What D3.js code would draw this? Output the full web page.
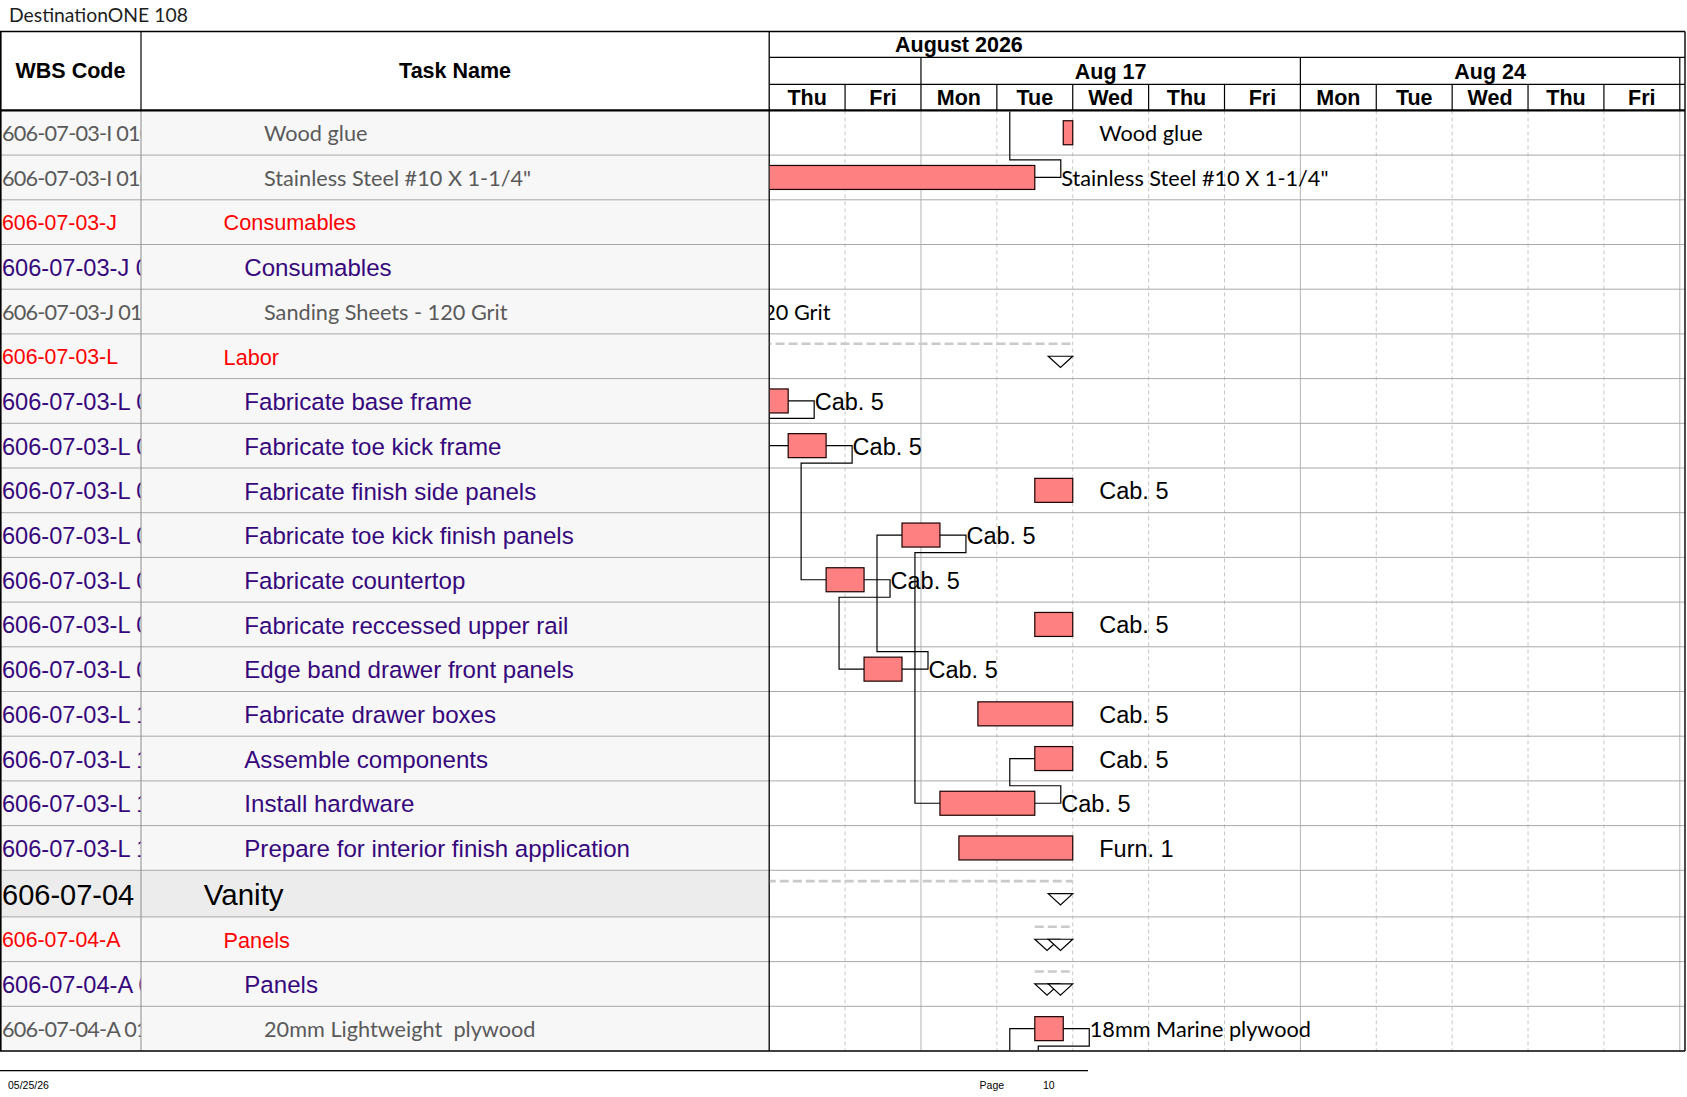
<!DOCTYPE html>
<html><head><meta charset="utf-8">
<script src="https://cdn.jsdelivr.net/npm/d3@7"></script>
<style>body{margin:0;background:#fff;} svg{display:block}</style>
</head><body>
<svg id="chart" width="1687" height="1097"></svg>
<script>
// ---------------- DATA ----------------
const title = "DestinationONE 108";
const headerWbs = "WBS Code";
const headerTask = "Task Name";
const monthLabel = "August 2026";
const dayLabels = ["Thu","Fri","Mon","Tue","Wed","Thu","Fri","Mon","Tue","Wed","Thu","Fri"];
const weekLabels = ["", "Aug 17", "Aug 24"];
const weekStartIdx = [0, 2, 7];          // working-day index where each week column begins
const weekEndIdx = [2, 7, 12];

const wbsCodes = [
  "606-07-03-I 0103","606-07-03-I 0104","606-07-03-J","606-07-03-J 01","606-07-03-J 0101",
  "606-07-03-L","606-07-03-L 03","606-07-03-L 04","606-07-03-L 05","606-07-03-L 06",
  "606-07-03-L 07","606-07-03-L 08","606-07-03-L 09","606-07-03-L 10","606-07-03-L 11",
  "606-07-03-L 12","606-07-03-L 13","606-07-04","606-07-04-A","606-07-04-A 01","606-07-04-A 0101"
];
const taskNames = [
  "Wood glue","Stainless Steel #10 X 1-1/4\"","Consumables","Consumables","Sanding Sheets - 120 Grit",
  "Labor","Fabricate base frame","Fabricate toe kick frame","Fabricate finish side panels",
  "Fabricate toe kick finish panels","Fabricate countertop","Fabricate reccessed upper rail",
  "Edge band drawer front panels","Fabricate drawer boxes","Assemble components","Install hardware",
  "Prepare for interior finish application","Vanity","Panels","Panels","20mm Lightweight  plywood"
];
const taskLevels = [
  "detail","detail","group","task","detail","group","task","task","task","task","task","task",
  "task","task","task","task","task","top","group","task","detail"
];
// bars in working days from Thu Aug 13 (0) ; null = nothing in view
const barTypes = [
  "bar","bar",null,null,"bar","summary","bar","bar","bar","bar","bar","bar",
  "bar","bar","bar","bar","bar","summary","summary","summary","bar"
];
const barStarts = [
  3.875,-3,null,null,-4.5,-3,0,0.25,3.5,1.75,0.75,3.5,1.25,2.75,3.5,2.25,2.5,-5,3.5,3.5,3.5
];
const barFinishes = [
  4,3.5,null,null,-2.75,4,0.25,0.75,4,2.25,1.25,4,1.75,4,4,3.5,4,4,4,4,3.875
];
const barLabels = [
  "Wood glue","Stainless Steel #10 X 1-1/4\"","","","Sanding Sheets - 120 Grit","",
  "Cab. 5","Cab. 5","Cab. 5","Cab. 5","Cab. 5","Cab. 5","Cab. 5","Cab. 5","Cab. 5","Cab. 5",
  "Furn. 1","","","","18mm Marine plywood"
];
// finish-to-start links [predecessor row, successor row]; rows -1, 21, 22 lie outside the page
const links = [[1,-1],[6,7],[7,10],[10,12],[12,9],[9,15],[15,14],[20,21],[22,20]];
const hiddenStarts = {"-1": 3.5, "21": 3.875};
const hiddenFinishes = {"22": 3.5};
const footerDate = "05/25/26";
const footerPage = "Page";
const footerPageNo = "10";

// ---------------- LAYOUT ----------------
const svg = d3.select("#chart");
const W = 1687;
const tableTop = 31.5, monthBottom = 57.3, weekBottom = 84.3, headerBottom = 110.4;
const colWbs = 141, ganttLeft = 769.2, ganttRight = 1679.8, frameRight = 1685;
const rowH = 44.7, topRowH = 46.6;
const ARIAL = "'Liberation Sans', Arial, sans-serif";
const CAL = "Lato, 'Open Sans', sans-serif";

const rowHeights = taskLevels.map(l => l === "top" ? topRowH : rowH);
const rowTops = [];
rowHeights.reduce((acc, h, i) => { rowTops[i] = acc; return acc + h; }, headerBottom);
const bodyBottom = rowTops[rowTops.length - 1] + rowHeights[rowHeights.length - 1];
function rowCenter(i) {
  if (i < 0) return headerBottom + (i + 0.5) * rowH;
  if (i >= rowTops.length) return bodyBottom + (i - rowTops.length + 0.5) * rowH;
  return rowTops[i] + rowHeights[i] / 2;
}

const x = d3.scaleLinear().domain([0, dayLabels.length]).range([ganttLeft, ganttRight]);

svg.append("rect").attr("width", W).attr("height", 1097).attr("fill", "#fff");

// font calibration for the Calibri-like texts
function fitSize(family, text, target, base) {
  const t = svg.append("text").attr("font-family", family).attr("font-size", base).text(text);
  const w = t.node().getComputedTextLength(); t.remove();
  return w > 0 ? base * target / w : base;
}
const calSize = (fitSize(CAL, "Wood glue", 105, 22) + fitSize(CAL, "Stainless Steel #10 X 1-1/4\"", 263.5, 22)) / 2;
const titleSize = fitSize(CAL, title, 179, 19);

const styles = {
  detail: {family: CAL, size: calSize, nameSize: calSize, color: "#5a5a5a", indent: 264, wbsLs: -0.8},
  group:  {family: ARIAL, size: 21.3, nameSize: 21.7, color: "#ff0000", indent: 223.6, wbsLs: 0},
  task:   {family: ARIAL, size: 23.6, nameSize: 24.1, color: "#36087c", indent: 244.3, wbsLs: 0},
  top:    {family: ARIAL, size: 29, nameSize: 29.5, color: "#000", indent: 203.8, wbsLs: 0}
};

// title
svg.append("text").attr("x", 9).attr("y", 21.5).attr("font-family", CAL)
  .attr("font-size", titleSize).attr("fill", "#1e1e1e").text(title);

// clip paths
const defs = svg.append("defs");
defs.append("clipPath").attr("id", "clipWbs").append("rect")
  .attr("x", 0).attr("y", headerBottom).attr("width", colWbs - 0.5).attr("height", bodyBottom - headerBottom);
defs.append("clipPath").attr("id", "clipTask").append("rect")
  .attr("x", colWbs).attr("y", headerBottom).attr("width", ganttLeft - colWbs - 1).attr("height", bodyBottom - headerBottom);
defs.append("clipPath").attr("id", "clipGantt").append("rect")
  .attr("x", ganttLeft + 0.6).attr("y", headerBottom + 1).attr("width", frameRight - ganttLeft - 1.2).attr("height", bodyBottom - headerBottom - 1.5);

// left table row backgrounds
svg.append("g").selectAll("rect").data(taskLevels).join("rect")
  .attr("x", 0).attr("y", (d, i) => rowTops[i]).attr("width", ganttLeft)
  .attr("height", (d, i) => rowHeights[i])
  .attr("fill", d => d === "top" ? "#ececec" : "#f7f7f7");

// gantt vertical grid
const gridIdx = d3.range(1, dayLabels.length + 1);
const isWeekLine = d => weekStartIdx.includes(d) || d === dayLabels.length;
svg.append("g").selectAll("line").data(gridIdx).join("line")
  .attr("x1", d => x(d)).attr("x2", d => x(d))
  .attr("y1", headerBottom).attr("y2", bodyBottom)
  .attr("stroke", d => isWeekLine(d) ? "#b4b4b4" : "#c8c8c8")
  .attr("stroke-width", 1)
  .attr("stroke-dasharray", d => isWeekLine(d) ? null : "4,3");

// row separators
svg.append("g").selectAll("line").data(rowTops.slice(1)).join("line")
  .attr("x1", 0).attr("x2", frameRight).attr("y1", d => d).attr("y2", d => d)
  .attr("stroke", "#a8a8a8").attr("stroke-width", 1);

// column separators
svg.append("line").attr("x1", colWbs).attr("x2", colWbs).attr("y1", headerBottom).attr("y2", bodyBottom)
  .attr("stroke", "#8c8c8c").attr("stroke-width", 1);
svg.append("line").attr("x1", colWbs).attr("x2", colWbs).attr("y1", tableTop).attr("y2", headerBottom)
  .attr("stroke", "#000").attr("stroke-width", 1.2);
svg.append("line").attr("x1", ganttLeft).attr("x2", ganttLeft).attr("y1", tableTop).attr("y2", bodyBottom)
  .attr("stroke", "#000").attr("stroke-width", 1.3);

// timescale header lines
const hdr = svg.append("g").attr("stroke", "#000").attr("stroke-width", 1.2);
hdr.append("line").attr("x1", ganttLeft).attr("x2", frameRight).attr("y1", monthBottom).attr("y2", monthBottom);
hdr.append("line").attr("x1", ganttLeft).attr("x2", frameRight).attr("y1", weekBottom).attr("y2", weekBottom);
hdr.selectAll(".wk").data(weekEndIdx).join("line").attr("class", "wk")
  .attr("x1", d => x(d)).attr("x2", d => x(d)).attr("y1", monthBottom).attr("y2", weekBottom);
hdr.selectAll(".dy").data(gridIdx).join("line").attr("class", "dy")
  .attr("x1", d => x(d)).attr("x2", d => x(d)).attr("y1", weekBottom).attr("y2", headerBottom);

// frame
const fr = svg.append("g").attr("stroke", "#000").attr("fill", "none");
fr.append("line").attr("x1", 0).attr("x2", frameRight).attr("y1", tableTop).attr("y2", tableTop).attr("stroke-width", 1.4);
fr.append("line").attr("x1", 0).attr("x2", frameRight).attr("y1", headerBottom).attr("y2", headerBottom).attr("stroke-width", 2.4);
fr.append("line").attr("x1", 0).attr("x2", frameRight).attr("y1", bodyBottom).attr("y2", bodyBottom).attr("stroke-width", 1.6);
fr.append("line").attr("x1", 0.8).attr("x2", 0.8).attr("y1", tableTop).attr("y2", bodyBottom).attr("stroke-width", 1.6);
fr.append("line").attr("x1", frameRight).attr("x2", frameRight).attr("y1", tableTop).attr("y2", bodyBottom).attr("stroke-width", 1.4);

// header texts
const hText = (t, xx, yy) => svg.append("text").attr("x", xx).attr("y", yy).attr("text-anchor", "middle")
  .attr("font-family", ARIAL).attr("font-weight", "bold").attr("font-size", 21.5).attr("fill", "#000").text(t);
hText(headerWbs, colWbs / 2, 77.8);
hText(headerTask, (colWbs + ganttLeft) / 2, 77.8);
hText(monthLabel, x(2.5), 52);
svg.append("g").selectAll("text").data(weekLabels).join("text")
  .attr("x", (d, i) => (x(weekStartIdx[i]) + x(weekEndIdx[i])) / 2).attr("y", 78.5)
  .attr("text-anchor", "middle").attr("font-family", ARIAL).attr("font-weight", "bold")
  .attr("font-size", 21.5).text(d => d);
svg.append("g").selectAll("text").data(dayLabels).join("text")
  .attr("x", (d, i) => x(i + 0.5)).attr("y", 105)
  .attr("text-anchor", "middle").attr("font-family", ARIAL).attr("font-weight", "bold")
  .attr("font-size", 21.5).text(d => d);

// table texts
const baseY = (i, size) => rowCenter(i) + size * 0.36 + 0.5;
svg.append("g").attr("clip-path", "url(#clipWbs)").selectAll("text").data(wbsCodes).join("text")
  .attr("x", 2).attr("y", (d, i) => baseY(i, styles[taskLevels[i]].size))
  .attr("font-family", (d, i) => styles[taskLevels[i]].family)
  .attr("font-size", (d, i) => styles[taskLevels[i]].size)
  .attr("letter-spacing", (d, i) => styles[taskLevels[i]].wbsLs)
  .attr("fill", (d, i) => styles[taskLevels[i]].color).text(d => d);
svg.append("g").attr("clip-path", "url(#clipTask)").selectAll("text").data(taskNames).join("text")
  .attr("x", (d, i) => styles[taskLevels[i]].indent).attr("y", (d, i) => baseY(i, styles[taskLevels[i]].nameSize))
  .attr("font-family", (d, i) => styles[taskLevels[i]].family)
  .attr("font-size", (d, i) => styles[taskLevels[i]].nameSize)
  .attr("fill", (d, i) => styles[taskLevels[i]].color)
  .style("white-space", "pre").text(d => d);

// ---------------- GANTT BODY ----------------
const g = svg.append("g").attr("clip-path", "url(#clipGantt)");
const EXT = 26, BACK = 25, DROP = 17.5;
const finishOf = r => (r in hiddenFinishes) ? hiddenFinishes[r] : barFinishes[r];
const startOf = r => (r in hiddenStarts) ? hiddenStarts[r] : barStarts[r];

function linkPath(p, s) {
  const x1 = x(finishOf(p)), y1 = rowCenter(p), x2 = x(startOf(s)), y2 = rowCenter(s);
  const yMid = s > p ? y1 + DROP : y1 - DROP;
  const p2 = d3.path();
  p2.moveTo(x1, y1); p2.lineTo(x1 + EXT, y1); p2.lineTo(x1 + EXT, yMid);
  p2.lineTo(x2 - BACK, yMid); p2.lineTo(x2 - BACK, y2); p2.lineTo(x2, y2);
  return p2.toString();
}
g.append("g").selectAll("path").data(links).join("path")
  .attr("d", d => linkPath(d[0], d[1])).attr("fill", "none")
  .attr("stroke", "#000").attr("stroke-width", 1.2);

const rows = d3.range(taskNames.length);
// summary bars
const sumRows = rows.filter(i => barTypes[i] === "summary");
g.append("g").selectAll("line").data(sumRows).join("line")
  .attr("x1", i => x(barStarts[i])).attr("x2", i => x(barFinishes[i]))
  .attr("y1", i => rowCenter(i) - 12.5).attr("y2", i => rowCenter(i) - 12.5)
  .attr("stroke", "#cacaca").attr("stroke-width", 2.6).attr("stroke-dasharray", "9,4");
const TW = 24.5, TH = 11.3;
const tri = (x0, y0) => { const p = d3.path(); p.moveTo(x0, y0); p.lineTo(x0 + TW, y0); p.lineTo(x0 + TW / 2, y0 + TH); p.closePath(); return p.toString(); };
const triData = [];
sumRows.forEach(i => {
  triData.push({i, x0: x(barStarts[i])});
  triData.push({i, x0: x(barFinishes[i]) - TW});
});
g.append("g").selectAll("path").data(triData).join("path")
  .attr("d", d => tri(d.x0, rowCenter(d.i))).attr("fill", "#fff")
  .attr("stroke", "#000").attr("stroke-width", 1.2);

// task bars
const barRows = rows.filter(i => barTypes[i] === "bar");
g.append("g").selectAll("rect").data(barRows).join("rect")
  .attr("x", i => x(barStarts[i])).attr("width", i => x(barFinishes[i]) - x(barStarts[i]))
  .attr("y", i => rowCenter(i) - 12).attr("height", 24)
  .attr("fill", "#ff8080").attr("stroke", "#1a0000").attr("stroke-width", 1.2);

// bar labels
const labelRows = rows.filter(i => barLabels[i]);
g.append("g").selectAll("text").data(labelRows).join("text")
  .attr("x", i => x(barFinishes[i]) + 26.5)
  .attr("y", i => rowCenter(i) + (taskLevels[i] === "detail" ? calSize : 23.5) * 0.36 + 0.5)
  .attr("font-family", i => taskLevels[i] === "detail" ? CAL : ARIAL)
  .attr("font-size", i => taskLevels[i] === "detail" ? calSize : 23.5)
  .attr("fill", "#000").text(i => barLabels[i]);

// ---------------- FOOTER ----------------
svg.append("line").attr("x1", 0).attr("x2", 1088).attr("y1", 1070.7).attr("y2", 1070.7)
  .attr("stroke", "#000").attr("stroke-width", 1.3);
const fText = (t, xx) => svg.append("text").attr("x", xx).attr("y", 1089).attr("font-family", ARIAL)
  .attr("font-size", 10.5).attr("fill", "#000").text(t);
fText(footerDate, 8);
fText(footerPage, 979.6);
fText(footerPageNo, 1043);
</script>
</body></html>
